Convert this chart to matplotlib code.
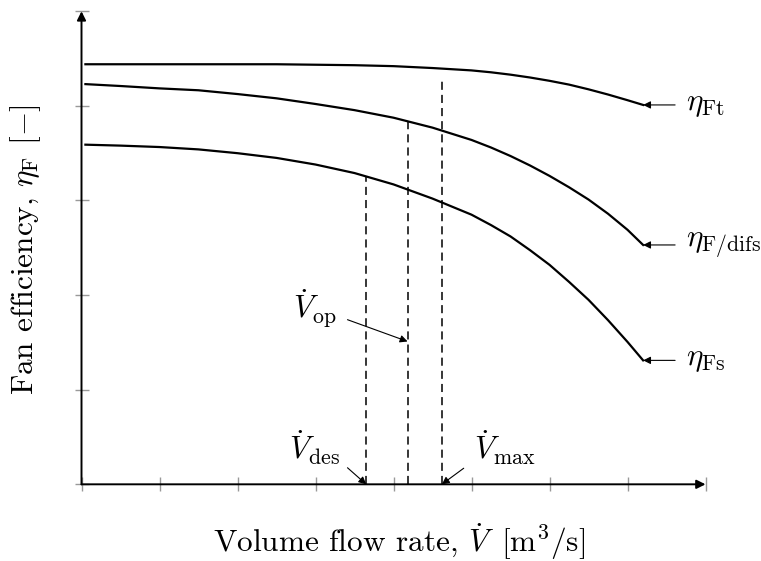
import numpy as np
import matplotlib
matplotlib.use('Agg')
from matplotlib import pyplot as plt

plt.rcParams['font.family'] = 'serif'
plt.rcParams['font.serif'] = ['cmr10']
plt.rcParams['mathtext.fontset'] = 'cm'
plt.rcParams['axes.formatter.use_mathtext'] = True

# flow rate grid and efficiency curves
flow = [0.05, 0.5, 1, 1.5, 2, 2.5, 3, 3.5, 4, 4.5, 5, 5.25, 5.5, 5.75,
        6, 6.25, 6.5, 6.75, 7, 7.2]
eta_Ft = [4.44, 4.44, 4.44, 4.44, 4.44, 4.44, 4.435, 4.43, 4.42, 4.40,
          4.375, 4.355, 4.33, 4.30, 4.265, 4.225, 4.175, 4.12, 4.06, 4.01]
eta_Fdifs = [4.23, 4.21, 4.185, 4.165, 4.125, 4.08, 4.02, 3.955, 3.875,
             3.77, 3.64, 3.56, 3.47, 3.37, 3.26, 3.14, 3.01, 2.86, 2.69,
             2.53]
eta_Fs = [3.59, 3.58, 3.565, 3.54, 3.50, 3.45, 3.38, 3.29, 3.17, 3.02,
          2.85, 2.74, 2.62, 2.475, 2.32, 2.14, 1.95, 1.735, 1.505, 1.31]

curve_labels = [r'$\eta_\mathrm{Ft}$', r'$\eta_\mathrm{F/difs}$',
                r'$\eta_\mathrm{Fs}$']

# characteristic flow rates: design, operating, maximum
V_des = 3.65
V_op = 4.18
V_max = 4.62
V_max_top = 4.30

fontsize = 22.5

fig = plt.figure(figsize=(7.61, 5.61), dpi=100)
ax = fig.add_axes([0.1071, 0.1367, 0.82, 0.8432])
ax.set_xlim(0, 8)
ax.set_ylim(0, 5)
for s in ax.spines.values():
    s.set_visible(False)
ax.set_xticks(range(0, 9))
ax.set_yticks(range(0, 6))
ax.tick_params(direction='inout', length=10, width=1.0, color='#999999',
               labelbottom=False, labelleft=False)

# axes with arrow heads
arrow_axis = dict(arrowstyle='-|>', lw=1.4, color='black',
                  mutation_scale=13, shrinkA=0, shrinkB=0)
ax.annotate('', xy=(8, 0), xytext=(0, 0), arrowprops=arrow_axis,
            annotation_clip=False)
ax.annotate('', xy=(0, 5), xytext=(0, 0), arrowprops=arrow_axis,
            annotation_clip=False)

small_arrow = dict(arrowstyle='-|>', lw=0.8, color='black',
                   mutation_scale=11, shrinkA=0, shrinkB=0)

# efficiency curves, labelled at their right end
curves = [eta_Ft, eta_Fdifs, eta_Fs]
for eta, lab in zip(curves, curve_labels):
    ax.plot(flow, eta, color='black', lw=1.6, clip_on=False,
            solid_joinstyle='round')
    ax.annotate('', xy=(flow[-1], eta[-1]), xytext=(7.61, eta[-1]),
                arrowprops=small_arrow, annotation_clip=False)
    ax.text(7.75, eta[-1], lab, fontsize=fontsize, ha='left', va='center')

# dashed verticals up to the curves
tops = [np.interp(V_des, flow, eta_Fs), np.interp(V_op, flow, eta_Fdifs),
        V_max_top]
for xv, top in zip([V_des, V_op, V_max], tops):
    ax.plot([xv, xv], [0, top], color='black', lw=1.1, dashes=(5.3, 3.3))

ax.annotate('', xy=(V_des, 0), xytext=(3.41, 0.175), arrowprops=small_arrow)
ax.annotate('', xy=(V_max, 0), xytext=(4.9, 0.17), arrowprops=small_arrow)
ax.annotate('', xy=(V_op, 1.51), xytext=(3.41, 1.74), arrowprops=small_arrow)
ax.text(2.99, 0.385, r'$\dot{V}_\mathrm{des}$', fontsize=fontsize,
        ha='center', va='center')
ax.text(5.43, 0.385, r'$\dot{V}_\mathrm{max}$', fontsize=fontsize,
        ha='center', va='center')
ax.text(2.99, 1.855, r'$\dot{V}_\mathrm{op}$', fontsize=fontsize,
        ha='center', va='center')

fig.text(0.524, 0.034, r'Volume flow rate, $\dot{V}\,$ [m$^3$/s]',
         fontsize=fontsize, ha='center', va='center')
fig.text(0.033, 0.555, r'Fan efficiency, $\eta_\mathrm{F}$ $[-]$',
         fontsize=fontsize, ha='center', va='center', rotation=90)

fig.savefig('out.png', dpi=100)
